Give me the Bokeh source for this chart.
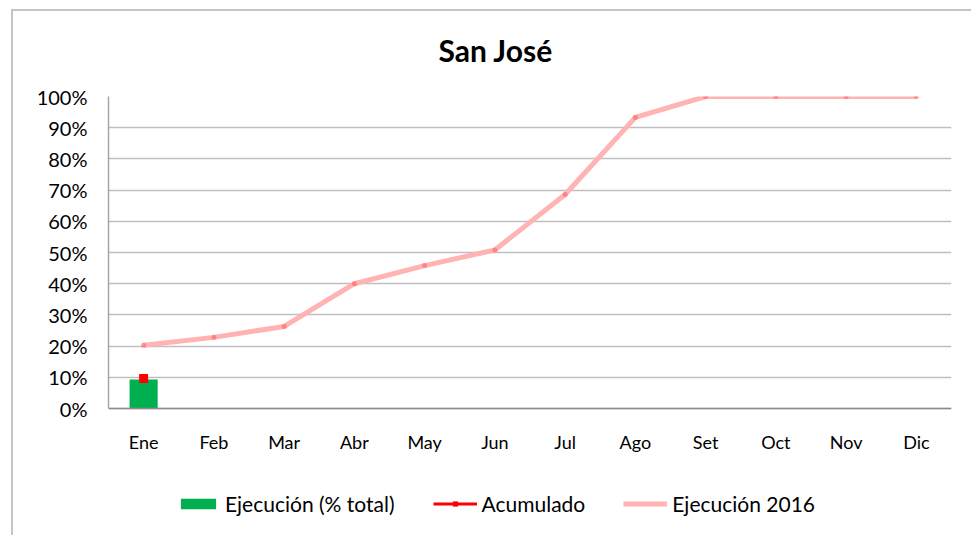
from bokeh.plotting import figure
from bokeh.models import (ColumnDataSource, Range1d, FixedTicker, NumeralTickFormatter,
                          Legend, LegendItem, InlineStyleSheet)
from bokeh.embed import file_html
from bokeh.resources import INLINE

months = ["Ene", "Feb", "Mar", "Abr", "May", "Jun", "Jul", "Ago", "Set", "Oct", "Nov", "Dic"]
ejecucion = [0.093]  # Ejecución (% total), only Ene
ejecucion_months = ["Ene"]
acumulado = [0.096]
acumulado_months = ["Ene"]
ejec_2016 = [0.203, 0.228, 0.263, 0.400, 0.458, 0.508, 0.686, 0.933, 1.0, 1.0, 1.0, 1.0]
y_ticks = [0, 0.1, 0.2, 0.3, 0.4, 0.5, 0.6, 0.7, 0.8, 0.9, 1.0]

FONT = "Lato"

# y range extends below 0 so the legend area sits inside the frame; axis drawn at y=0
p = figure(x_range=months, y_range=Range1d(-0.407, 1.0), frame_width=843, frame_height=439,
           output_backend="svg", toolbar_location=None,
           min_border_left=108, min_border_right=20, min_border_top=96, min_border_bottom=0)
p.stylesheets = [InlineStyleSheet(css="""
:host::after {
  content: "";
  position: absolute;
  left: 11px; top: 9px; right: 0px; bottom: 0px;
  border-left: 2px solid #c4c4c4;
  border-top: 2px solid #c4c4c4;
  z-index: 10;
  pointer-events: none;
}
""")]

p.title.text = "San José"
p.title.align = "left"
p.title.offset = 330
p.title.text_font = FONT
p.title.text_font_size = "30px"
p.title.text_font_style = "bold"
p.title.text_color = "black"
p.title.standoff = 58

p.outline_line_color = None
p.background_fill_color = "white"
p.border_fill_color = "white"

p.xgrid.grid_line_color = None
p.ygrid.grid_line_color = "#bfbfbf"
p.ygrid.grid_line_width = 1.5
p.yaxis.ticker = FixedTicker(ticks=y_ticks)
p.yaxis.formatter = NumeralTickFormatter(format="0%")
p.yaxis.bounds = (0, 1)
p.xaxis.fixed_location = 0

for ax in (p.xaxis, p.yaxis):
    ax.major_tick_line_color = None
    ax.minor_tick_line_color = None
    ax.major_label_text_font = FONT
    ax.major_label_text_color = "black"
    ax.axis_line_width = 1.5
p.yaxis.axis_line_color = "#a6a6a6"
p.xaxis.axis_line_color = "#8c8c8c"
p.yaxis.major_label_text_font_size = "20px"
p.xaxis.major_label_text_font_size = "18px"
p.yaxis.major_label_standoff = 15
p.xaxis.major_label_standoff = 16

bar_src = ColumnDataSource(dict(x=ejecucion_months, y=ejecucion))
bars = p.vbar(x="x", top="y", width=0.4, source=bar_src, fill_color="#00b050", line_color=None)

src16 = ColumnDataSource(dict(x=months, y=ejec_2016))
l16 = p.line("x", "y", source=src16, line_color="#ffb3b3", line_width=5)
d16 = p.scatter("x", "y", source=src16, size=5, fill_color="#ff6f6f", line_color=None, fill_alpha=0.7)

acu_src = ColumnDataSource(dict(x=acumulado_months, y=acumulado))
acu_line = p.line("x", "y", source=acu_src, line_color="#ff0000", line_width=3)
acu_pts = p.scatter("x", "y", source=acu_src, marker="square", size=9, fill_color="#ff0000", line_color=None)

legend = Legend(items=[
    LegendItem(label="Ejecución (% total)", renderers=[bars]),
    LegendItem(label="Acumulado", renderers=[acu_line, acu_pts]),
    LegendItem(label="Ejecución 2016", renderers=[l16]),
], orientation="horizontal", location=(68, 19))
legend.label_text_font = FONT
legend.label_text_font_size = "21px"
legend.label_text_color = "black"
legend.glyph_width = 44
legend.glyph_height = 13
legend.label_standoff = 5
legend.spacing = 38
legend.padding = 4
legend.margin = 0
legend.border_line_color = None
legend.background_fill_alpha = 0
p.add_layout(legend)

open("out.html", "w").write(file_html(p, INLINE))
